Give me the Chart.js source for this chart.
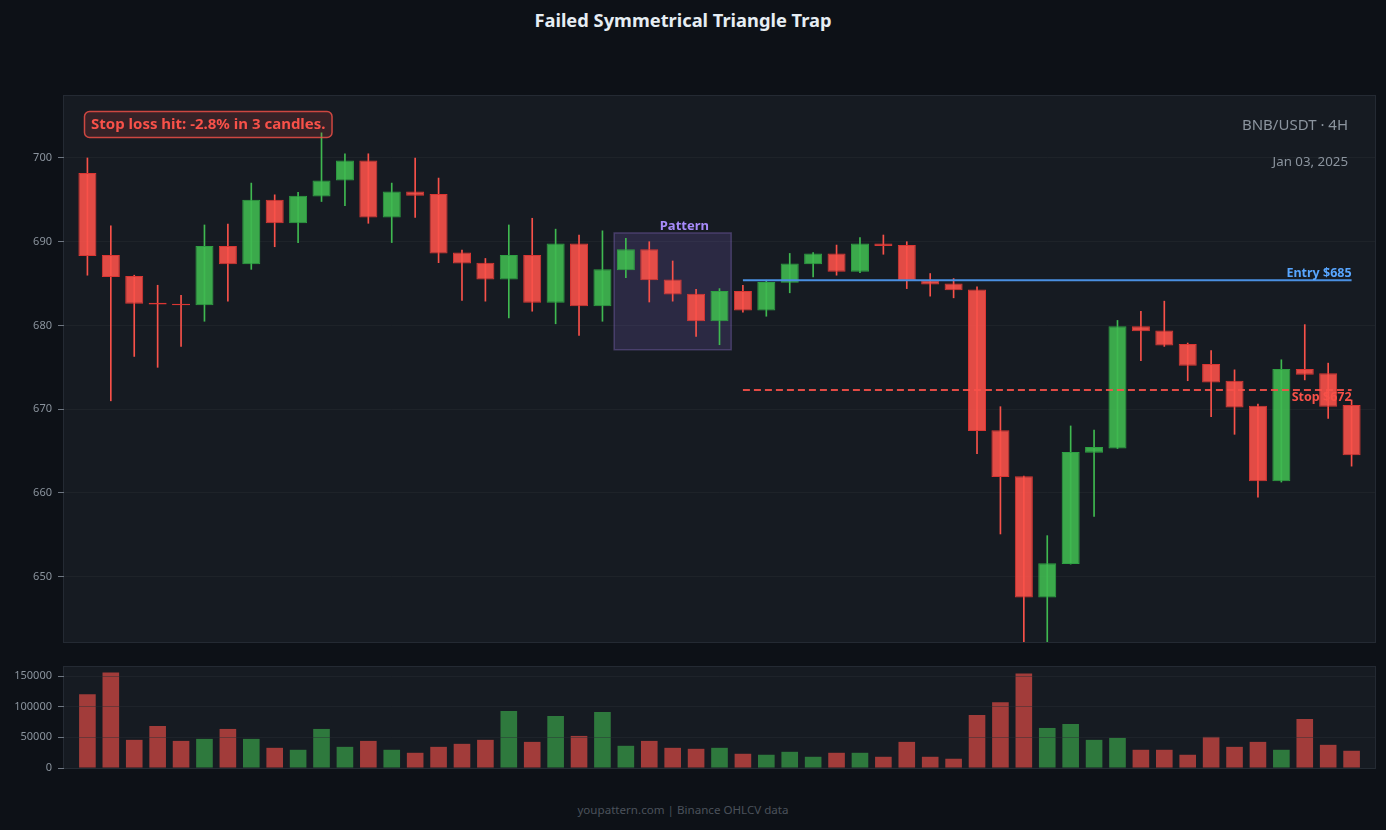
<!DOCTYPE html>
<html>
<head>
<meta charset="utf-8">
<script src="https://cdn.jsdelivr.net/npm/chart.js@4.4.1/dist/chart.umd.min.js"></script>
<style>
  html, body { margin: 0; padding: 0; background: #0d1117; width: 1386px; height: 830px; overflow: hidden; font-family: "Noto Sans", sans-serif; }
  #title { position: absolute; left: 0; width: 1366px; top: 7px; text-align: center; color: #e6edf3; font-weight: bold; font-size: 18.3px; }
  #footer { position: absolute; left: 0; width: 1366px; top: 802px; text-align: center; color: #4b525b; font-size: 11.6px; }
  #main { position: absolute; left: 0; top: 0; }
  #vol { position: absolute; left: 0; top: 650px; }
</style>
</head>
<body>
<div id="title">Failed Symmetrical Triangle Trap</div>
<canvas id="main" width="1386" height="650"></canvas>
<canvas id="vol" width="1386" height="130"></canvas>
<div id="footer">youpattern.com | Binance OHLCV data</div>
<script>
// 4H candles, BNB/USDT
const opens  = [698.2, 688.4, 685.9, 682.7, 682.6, 682.4, 689.5, 687.3, 695.0, 692.2,
                695.4, 697.3, 699.7, 692.9, 696.0, 695.7, 688.7, 687.5, 685.5, 688.4,
                682.7, 689.8, 682.3, 686.6, 689.1, 685.5, 683.8, 680.5, 684.1, 681.8,
                685.1, 687.3, 688.6, 686.4, 689.8, 689.6, 685.4, 685.0, 684.3, 667.5,
                662.0, 647.5, 651.5, 664.8, 665.3, 679.9, 679.4, 677.8, 675.4, 673.4,
                670.4, 661.4, 674.8, 674.3, 670.5];
const highs  = [700.0, 691.9, 686.0, 684.8, 683.6, 692.0, 692.1, 697.0, 695.6, 695.9,
                703.0, 700.5, 700.5, 697.0, 700.0, 697.6, 689.0, 688.0, 692.0, 692.8,
                691.5, 690.8, 691.3, 690.4, 690.0, 687.7, 684.3, 684.4, 684.8, 685.4,
                688.6, 688.7, 689.6, 690.5, 690.8, 690.0, 686.2, 685.6, 684.6, 670.3,
                662.0, 654.9, 668.0, 667.5, 680.6, 681.7, 682.9, 677.9, 677.0, 674.7,
                670.6, 675.9, 680.1, 675.5, 671.1];
const lows   = [686.0, 671.0, 676.3, 675.0, 677.5, 680.5, 682.9, 686.7, 689.4, 689.9,
                694.8, 694.3, 692.2, 689.9, 692.9, 687.5, 683.0, 682.9, 680.9, 681.7,
                680.2, 678.8, 680.5, 685.7, 682.8, 682.9, 678.7, 677.7, 681.6, 681.1,
                683.9, 685.8, 686.0, 686.3, 688.5, 684.4, 683.5, 683.3, 664.7, 655.1,
                641.5, 641.5, 651.5, 657.2, 665.3, 675.8, 677.5, 673.4, 669.1, 667.0,
                659.5, 661.3, 673.5, 668.9, 663.2];
const closes = [688.3, 685.8, 682.6, 682.5, 682.4, 689.5, 687.3, 695.0, 692.2, 695.5,
                697.3, 699.7, 692.9, 696.0, 695.5, 688.6, 687.4, 685.5, 688.4, 682.7,
                689.8, 682.3, 686.7, 689.1, 685.4, 683.7, 680.5, 684.1, 681.8, 685.2,
                687.4, 688.6, 686.4, 689.8, 689.5, 685.4, 684.9, 684.2, 667.4, 661.9,
                647.5, 651.6, 664.9, 665.5, 679.9, 679.3, 677.6, 675.2, 673.2, 670.2,
                661.4, 674.8, 674.1, 670.3, 664.5];
const volumes = [120300, 155900, 45900, 68500, 44200, 47500, 63700, 47500, 32900, 29700,
                 63700, 34500, 44200, 29700, 24800, 34500, 39400, 45900, 92800, 42600,
                 84700, 52300, 91200, 36200, 44200, 32900, 31300, 32900, 23200, 21600,
                 26400, 18300, 24800, 24800, 18300, 42600, 18300, 15100, 86300, 107400,
                 154300, 65300, 71800, 45900, 49100, 29700, 29700, 21600, 50700, 34500,
                 42600, 29700, 79900, 37800, 28100];

const priceTicks = [650, 660, 670, 680, 690, 700];
const volumeTicks = [0, 50000, 100000, 150000];

const entryPrice = 685.4;
const stopPrice = 672.3;
const tradeStart = 28;
const patternStart = 23, patternEnd = 27;
const patternTop = 691.05, patternBottom = 677.1;

const idx = opens.map((v, i) => i);
const isUp = idx.map(i => closes[i] >= opens[i]);
const last = opens.length - 1;

const RED = '#f85149', GREEN = '#3fb950';

const panelBg = {
    id: 'panelBg',
    beforeDraw(chart) {
        const { ctx, chartArea: a } = chart;
        ctx.save();
        ctx.fillStyle = '#161b22';
        ctx.fillRect(a.left, a.top, a.width, a.height);
        ctx.strokeStyle = '#242a33';
        ctx.lineWidth = 1;
        ctx.strokeRect(a.left - 0.5, a.top - 0.5, a.width + 1, a.height + 1);
        ctx.restore();
    }
};

function roundRect(ctx, x, y, w, h, r) {
    ctx.beginPath();
    ctx.moveTo(x + r, y);
    ctx.arcTo(x + w, y, x + w, y + h, r);
    ctx.arcTo(x + w, y + h, x, y + h, r);
    ctx.arcTo(x, y + h, x, y, r);
    ctx.arcTo(x, y, x + w, y, r);
    ctx.closePath();
}

const marks = {
    id: 'marks',
    beforeDatasetsDraw(chart) {
        const { ctx, scales: { x, y } } = chart;
        const x0 = x.getPixelForValue(patternStart - 0.5);
        const x1 = x.getPixelForValue(patternEnd + 0.5);
        const y0 = y.getPixelForValue(patternTop);
        const y1 = y.getPixelForValue(patternBottom);
        ctx.save();
        ctx.fillStyle = 'rgba(150, 110, 230, 0.17)';
        ctx.fillRect(x0, y0, x1 - x0, y1 - y0);
        ctx.strokeStyle = 'rgba(160, 125, 230, 0.3)';
        ctx.lineWidth = 1.5;
        ctx.strokeRect(x0, y0, x1 - x0, y1 - y0);
        ctx.fillStyle = '#a78bfa';
        ctx.font = 'bold 13px "Noto Sans"';
        ctx.textAlign = 'center';
        ctx.textBaseline = 'alphabetic';
        ctx.fillText('Pattern', x.getPixelForValue(patternEnd - 1.5), y0 - 3);
        ctx.restore();
    },
    afterDraw(chart) {
        const { ctx, chartArea: a, scales: { x, y } } = chart;
        ctx.save();
        // trade labels
        ctx.font = 'bold 12.5px "Noto Sans"';
        ctx.textAlign = 'right';
        ctx.textBaseline = 'alphabetic';
        ctx.fillStyle = '#58a6ff';
        ctx.fillText('Entry $' + Math.round(entryPrice), x.getPixelForValue(last), y.getPixelForValue(entryPrice) - 3);
        ctx.textBaseline = 'top';
        ctx.fillStyle = RED;
        ctx.fillText('Stop $' + Math.round(stopPrice), x.getPixelForValue(last), y.getPixelForValue(stopPrice) + 1);

        // result badge
        const msg = 'Stop loss hit: -2.8% in 3 candles.';
        ctx.font = 'bold 15px "Noto Sans"';
        const w = ctx.measureText(msg).width + 13;
        const bx = a.left + 20.5, by = a.top + 15.5;
        roundRect(ctx, bx, by, w, 26, 5);
        ctx.fillStyle = 'rgba(248, 81, 73, 0.15)';
        ctx.fill();
        ctx.strokeStyle = 'rgba(248, 81, 73, 0.8)';
        ctx.lineWidth = 1.5;
        ctx.stroke();
        ctx.fillStyle = RED;
        ctx.textAlign = 'left';
        ctx.textBaseline = 'middle';
        ctx.fillText(msg, bx + 6.5, by + 13.5);

        // pair and date
        ctx.fillStyle = '#8b949e';
        ctx.textAlign = 'right';
        ctx.textBaseline = 'alphabetic';
        ctx.font = '15px "Noto Sans"';
        ctx.fillText('BNB/USDT \u00b7 4H', a.right - 27, a.top + 34);
        ctx.font = '13.3px "Noto Sans"';
        ctx.fillText('Jan 03, 2025', a.right - 27, a.top + 70);
        ctx.restore();
    }
};

const tickFont = { family: 'Noto Sans', size: 11 };

function fixAxis(s) {
    s.width = 64;
    s.paddingTop = 0;
    s.paddingBottom = 0;
}

new Chart(document.getElementById('main'), {
    type: 'bar',
    data: {
        datasets: [
            {
                type: 'line',
                data: [{ x: tradeStart, y: entryPrice }, { x: last, y: entryPrice }],
                borderColor: '#4a90e2',
                borderWidth: 2,
                pointRadius: 0,
                order: 0
            },
            {
                type: 'line',
                data: [{ x: tradeStart, y: stopPrice }, { x: last, y: stopPrice }],
                borderColor: 'rgba(248, 81, 73, 0.9)',
                borderWidth: 2,
                borderDash: [7, 4],
                pointRadius: 0,
                order: 0
            },
            {
                data: idx.map(i => ({ x: i, y: [opens[i], closes[i]] })),
                backgroundColor: idx.map(i => isUp[i] ? 'rgba(63, 185, 80, 0.9)' : 'rgba(248, 81, 73, 0.9)'),
                borderColor: idx.map(i => isUp[i] ? '#2ea043' : '#da3633'),
                borderWidth: 1,
                borderSkipped: false,
                barPercentage: 0.77,
                categoryPercentage: 1,
                grouped: false,
                order: 1
            },
            {
                data: idx.map(i => ({ x: i, y: [lows[i], highs[i]] })),
                backgroundColor: idx.map(i => isUp[i] ? GREEN : RED),
                barThickness: 1,
                grouped: false,
                order: 2
            }
        ]
    },
    options: {
        responsive: false,
        animation: false,
        layout: { padding: { top: 96, bottom: 8, right: 11, left: 0 } },
        plugins: { legend: { display: false }, tooltip: { enabled: false } },
        scales: {
            x: { type: 'linear', min: -1, max: 55, offset: false, display: false },
            y: {
                min: 642.2,
                max: 707.4,
                afterBuildTicks: s => { s.ticks = priceTicks.map(v => ({ value: v })); },
                afterFit: fixAxis,
                border: { display: false },
                grid: { color: 'rgba(255, 255, 255, 0.035)', tickColor: '#6e7681', tickLength: 6 },
                ticks: { color: '#8b949e', font: tickFont, padding: 6 }
            }
        }
    },
    plugins: [panelBg, marks]
});

new Chart(document.getElementById('vol'), {
    type: 'bar',
    data: {
        datasets: [{
            data: idx.map(i => ({ x: i, y: volumes[i] })),
            backgroundColor: idx.map(i => isUp[i] ? 'rgba(63, 185, 80, 0.6)' : 'rgba(248, 81, 73, 0.62)'),
            barPercentage: 0.71,
            categoryPercentage: 1
        }]
    },
    options: {
        responsive: false,
        animation: false,
        layout: { padding: { top: 17, bottom: 12, right: 11, left: 0 } },
        plugins: { legend: { display: false }, tooltip: { enabled: false } },
        scales: {
            x: { type: 'linear', min: -1, max: 55, offset: false, display: false },
            y: {
                min: 0,
                max: 164700,
                afterBuildTicks: s => { s.ticks = volumeTicks.map(v => ({ value: v })); },
                afterFit: fixAxis,
                border: { display: false },
                grid: { color: 'rgba(40, 46, 54, 0.45)', tickColor: '#6e7681', tickLength: 6, z: 1 },
                ticks: { color: '#8b949e', font: tickFont, padding: 6, callback: v => String(v) }
            }
        }
    },
    plugins: [panelBg]
});
</script>
</body>
</html>
